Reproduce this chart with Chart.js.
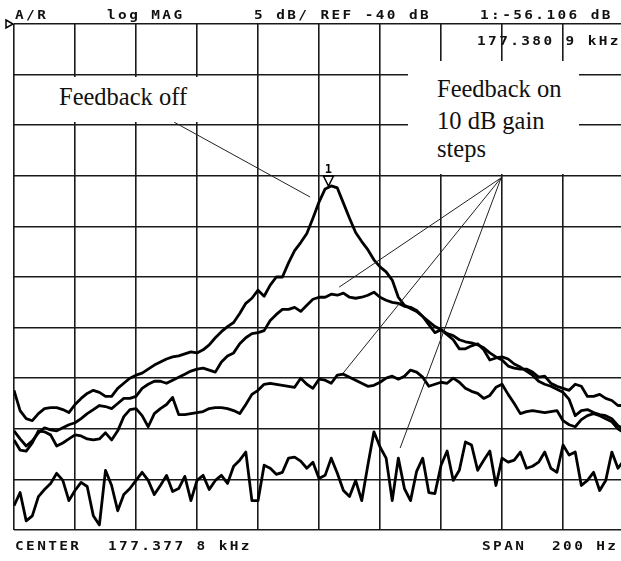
<!DOCTYPE html>
<html>
<head>
<meta charset="utf-8">
<script src="https://cdn.jsdelivr.net/npm/chart.js@4"></script>
<style>
  html, body { margin: 0; padding: 0; background: #fff; overflow: hidden; }
  #wrap { position: relative; width: 621px; height: 561px; }
  #chart { position: absolute; left: 0; top: 0; }
  .hp { position: absolute; font: bold 12px "DejaVu Sans Mono"; line-height: 12px; letter-spacing: 2px;
        transform: scaleX(1.2); transform-origin: 0 0; white-space: pre; color: #111; }
  .lbl { position: absolute; font: 24.5px "Liberation Serif"; line-height: 24.5px; white-space: pre; color: #111; }
  .box { position: absolute; background: #fff; }
</style>
</head>
<body>
<div id="wrap">
  <canvas id="chart" width="621" height="561"></canvas>

  <div class="box" style="left:30px;top:77px;width:190px;height:45px"></div>
  <div class="box" style="left:408px;top:61px;width:171px;height:113px"></div>

  <div class="lbl" style="left:59px;top:85px">Feedback off</div>
  <div class="lbl" style="left:437px;top:77px">Feedback on</div>
  <div class="lbl" style="left:437px;top:109px">10 dB gain</div>
  <div class="lbl" style="left:437px;top:137px">steps</div>

  <div class="hp" style="left:15px;top:9px">A/R</div>
  <div class="hp" style="left:107px;top:9px">log MAG</div>
  <div class="hp" style="left:254px;top:9px">5 dB/ REF -40 dB</div>
  <div class="hp" style="left:480px;top:9px">1:-56.106 dB</div>
  <div class="hp" style="left:477px;top:35px">177.380 9 kHz</div>
  <div class="hp" style="left:15px;top:540px">CENTER</div>
  <div class="hp" style="left:108px;top:540px">177.377 8 kHz</div>
  <div class="hp" style="left:482px;top:540px">SPAN</div>
  <div class="hp" style="left:552px;top:540px">200 Hz</div>
</div>

<script>
// offset from center 177.3778 kHz, in Hz (span 200 Hz)
const freqHz = [
  -100, -98, -96, -94, -92, -90, -88, -86, -84, -82,
  -80, -78, -76, -74, -72, -70, -68, -66, -64, -62,
  -60, -58, -56, -54, -52, -50, -48, -46, -44, -42,
  -40, -38, -36, -34, -32, -30, -28, -26, -24, -22,
  -20, -18, -16, -14, -12, -10, -8, -6, -4, -2,
  0, 2, 4, 6, 8, 10, 12, 14, 16, 18,
  20, 22, 24, 26, 28, 30, 32, 34, 36, 38,
  40, 42, 44, 46, 48, 50, 52, 54, 56, 58,
  60, 62, 64, 66, 68, 70, 72, 74, 76, 78,
  80, 82, 84, 86, 88, 90, 92, 94, 96, 98,
  100
];

// A/R magnitude, dB
const feedbackOff = [
  -76.2, -78.2, -79.0, -79.2, -78.5, -78.0, -77.9, -77.9, -78.1, -78.4,
  -77.6, -77.0, -76.5, -76.2, -76.4, -76.8, -76.8, -76.0, -75.5, -75.0,
  -74.7, -74.5, -74.1, -73.7, -73.4, -73.1, -72.9, -72.8, -72.6, -72.4,
  -72.5, -72.2, -71.7, -71.0, -70.4, -69.9, -69.5, -68.6, -67.6, -67.1,
  -66.3, -66.9, -65.8, -65.0, -65.0, -63.6, -62.4, -61.6, -60.7, -59.2,
  -57.6, -56.3, -56.0, -56.2, -57.7, -59.2, -60.6, -61.5, -62.3, -63.3,
  -64.0, -64.5, -65.3, -67.0, -67.8, -68.1, -68.4, -68.9, -69.4, -69.9,
  -70.2, -70.6, -70.8, -71.2, -71.4, -71.5, -71.7, -72.0, -72.5, -72.9,
  -73.2, -73.8, -74.0, -74.1, -74.1, -74.4, -74.9, -74.8, -75.5, -75.8,
  -76.0, -76.2, -75.6, -75.8, -76.8, -76.8, -76.6, -77.0, -77.2, -77.7,
  -77.7
];
const gainStep1 = [
  -80.2, -81.0, -81.7, -81.2, -80.4, -79.9, -80.1, -80.2, -79.9, -79.6,
  -79.4, -79.0, -78.5, -78.1, -77.7, -77.8, -78.0, -77.5, -77.0, -77.0,
  -76.8, -76.0, -75.6, -75.3, -75.3, -75.5, -75.2, -74.9, -74.6, -74.3,
  -74.1, -74.0, -74.2, -74.4, -73.4, -72.8, -72.5, -71.6, -71.0, -70.6,
  -70.5, -70.3, -69.3, -68.7, -68.2, -68.2, -68.0, -68.4, -67.8, -67.2,
  -67.0, -67.0, -66.7, -66.8, -66.6, -67.0, -67.1, -67.0, -66.8, -66.5,
  -67.0, -67.3, -67.5, -67.6, -67.9, -68.0, -68.3, -68.9, -69.7, -70.5,
  -70.2, -70.7, -71.2, -72.1, -72.1, -71.8, -71.6, -72.2, -73.2, -73.0,
  -72.9, -73.1, -73.6, -73.9, -74.3, -74.7, -75.3, -75.6, -75.8, -76.1,
  -76.4, -77.1, -78.7, -78.2, -78.1, -78.4, -78.6, -78.7, -79.0, -79.7,
  -80.0
];
const gainStep2 = [
  -81.1, -82.1, -82.2, -81.4, -80.2, -80.3, -80.6, -81.7, -81.4, -81.0,
  -80.6, -80.7, -81.0, -81.1, -81.0, -80.4, -81.1, -80.2, -78.8, -78.1,
  -78.0, -78.7, -79.8, -78.5, -78.0, -77.6, -76.9, -78.6, -78.6, -78.5,
  -78.4, -78.3, -78.0, -77.9, -77.9, -78.0, -78.2, -78.5, -77.6, -76.6,
  -76.2, -75.6, -75.5, -75.6, -75.7, -75.8, -75.9, -75.0, -75.6, -76.0,
  -75.1, -75.2, -75.5, -74.7, -74.6, -74.9, -75.2, -75.5, -75.8, -75.7,
  -75.4, -75.0, -74.8, -75.1, -74.8, -74.2, -74.4, -74.9, -75.8, -75.6,
  -75.4, -75.5, -75.0, -75.4, -76.0, -76.3, -76.5, -77.0, -76.7, -75.9,
  -75.6, -76.6, -77.5, -78.5, -78.3, -78.2, -78.3, -78.4, -78.3, -78.2,
  -79.2, -79.6, -79.8, -79.1, -78.7, -78.5, -78.7, -79.0, -79.3, -80.0,
  -80.4
];
const gainStep3 = [
  -87.6, -86.3, -89.1, -88.6, -86.7, -86.0, -85.4, -84.4, -85.1, -87.1,
  -86.1, -85.3, -85.7, -88.6, -89.5, -84.1, -85.6, -88.1, -86.5, -85.9,
  -85.1, -84.3, -85.1, -86.5, -85.6, -84.6, -86.2, -85.9, -84.7, -87.1,
  -85.1, -84.6, -86.0, -85.1, -84.6, -85.4, -83.7, -83.1, -82.3, -87.1,
  -87.1, -83.6, -83.9, -84.5, -84.3, -82.9, -82.8, -83.2, -83.9, -83.3,
  -84.9, -84.6, -82.9, -84.4, -86.1, -86.7, -85.1, -87.1, -83.6, -80.3,
  -81.8, -82.9, -87.1, -82.9, -85.9, -87.1, -84.2, -82.9, -86.3, -86.4,
  -83.6, -82.2, -85.1, -84.1, -81.3, -81.6, -84.1, -83.1, -82.2, -85.6,
  -82.9, -83.3, -83.1, -82.3, -83.9, -83.7, -83.3, -82.3, -83.9, -84.3,
  -81.6, -82.6, -82.3, -85.6, -85.1, -84.3, -86.1, -85.1, -82.3, -83.9,
  -83.1
];

const xGrid = [-100, -80, -60, -40, -20, 0, 20, 40, 60, 80];
const yGrid = [-90, -85, -80, -75, -70, -65, -60, -55, -50, -45, -40];
const refLevel = -40;
const marker = { hz: 3.1, db: -56.106 };

// pointer lines, [from, to] as [Hz, dB]
const offPointer = [[-47.5, -49.7], [-2.9, -57.1]];
const onOrigin = [59.7, -55.2];
const onTargets = [[6.6, -66.0], [7.9, -74.5], [26.6, -81.9]];

const toXY = arr => freqHz.map((f, i) => ({ x: f, y: arr[i] }));

const overlay = {
  id: 'overlay',
  afterDraw(chart) {
    const c = chart.ctx;
    const xs = chart.scales.x, ys = chart.scales.y;
    const px = p => [xs.getPixelForValue(p[0]), ys.getPixelForValue(p[1])];
    c.save();
    c.strokeStyle = '#222';
    c.lineWidth = 1;
    c.beginPath();
    let a = px(offPointer[0]), b = px(offPointer[1]);
    c.moveTo(a[0], a[1]); c.lineTo(b[0], b[1]);
    const o = px(onOrigin);
    onTargets.forEach(t => {
      const p = px(t);
      c.moveTo(o[0], o[1]); c.lineTo(p[0], p[1]);
    });
    c.stroke();

    // marker 1
    const mx = xs.getPixelForValue(marker.hz), my = ys.getPixelForValue(marker.db);
    c.strokeStyle = '#000';
    c.lineWidth = 1.5;
    c.beginPath();
    c.moveTo(mx - 5, my - 11); c.lineTo(mx + 5, my - 11); c.lineTo(mx, my - 1); c.closePath();
    c.stroke();
    c.fillStyle = '#000';
    c.font = 'bold 12px "DejaVu Sans Mono"';
    c.textAlign = 'center';
    c.fillText('1', mx, my - 14);

    // reference position
    const ry = ys.getPixelForValue(refLevel);
    c.beginPath();
    c.moveTo(6, ry - 4); c.lineTo(13, ry); c.lineTo(6, ry + 4); c.closePath();
    c.stroke();
    c.restore();
  }
};

const trace = arr => ({ data: toXY(arr), borderColor: '#000', borderWidth: 2.8, pointRadius: 0, tension: 0, borderJoinStyle: 'round' });

const ctx = document.getElementById('chart').getContext('2d');
new Chart(ctx, {
  type: 'line',
  data: { datasets: [trace(feedbackOff), trace(gainStep1), trace(gainStep2), trace(gainStep3)] },
  options: {
    responsive: false,
    animation: false,
    devicePixelRatio: 1,
    layout: { padding: { left: 14, top: 24, right: 0, bottom: 31 } },
    plugins: { legend: { display: false }, tooltip: { enabled: false } },
    scales: {
      x: {
        type: 'linear', min: -100, max: 99,
        afterBuildTicks: s => { s.ticks = xGrid.map(v => ({ value: v })); },
        ticks: { display: false },
        grid: { color: '#1a1a1a', lineWidth: 1.6, drawTicks: false },
        border: { display: false }
      },
      y: {
        type: 'linear', min: -90, max: -40,
        afterBuildTicks: s => { s.ticks = yGrid.map(v => ({ value: v })); },
        ticks: { display: false },
        grid: { color: '#1a1a1a', lineWidth: 1.6, drawTicks: false },
        border: { display: false }
      }
    }
  },
  plugins: [overlay]
});
</script>
</body>
</html>
